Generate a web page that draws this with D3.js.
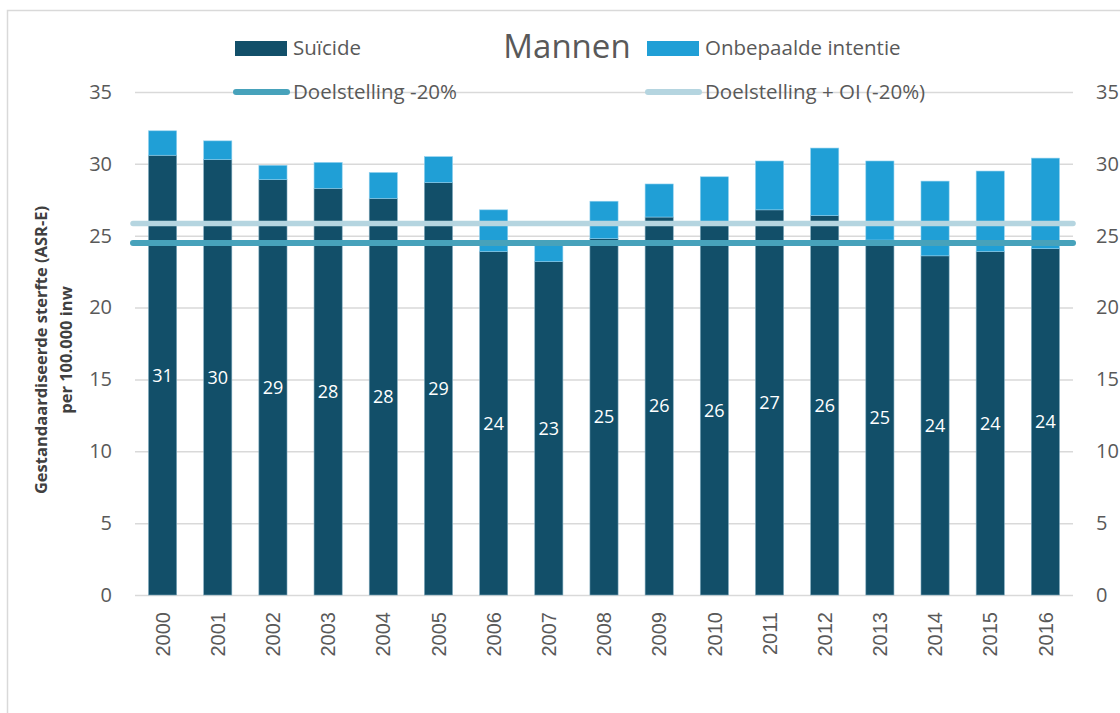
<!DOCTYPE html>
<html>
<head>
<meta charset="utf-8">
<script src="https://cdn.jsdelivr.net/npm/d3@7"></script>
<style>
  body { margin: 0; background: #fff; }
  text { font-family: "Open Sans", sans-serif; }
</style>
</head>
<body>
<div id="chart"></div>
<script>
// data
var years = ["2000", "2001", "2002", "2003", "2004", "2005", "2006", "2007", "2008",
    "2009", "2010", "2011", "2012", "2013", "2014", "2015", "2016"];
var suicide = [30.6, 30.3, 28.9, 28.3, 27.6, 28.7, 23.9, 23.2, 24.8,
    26.3, 25.7, 26.8, 26.4, 24.7, 23.6, 23.9, 24.1];
var onbepaald = [1.7, 1.3, 1.0, 1.8, 1.8, 1.8, 2.9, 1.2, 2.6,
    2.3, 3.4, 3.4, 4.7, 5.5, 5.2, 5.6, 6.3];
var doelstelling = 24.5;
var doelstellingOI = 25.85;
var yTicks = [0, 5, 10, 15, 20, 25, 30, 35];

var W = 1120, H = 713;
var margin = {top: 92, right: 47, bottom: 118, left: 135},
    width = W - margin.left - margin.right,
    height = H - margin.top - margin.bottom;

var colSuicide = "#124f69",
    colOnbep = "#209fd6",
    colDoel = "#47a2bb",
    colDoelOI = "#b5d5e0",
    grey = "#595959";

var svg = d3.select("#chart")
    .append("svg")
    .attr("width", W)
    .attr("height", H);

// outer frame
svg.append("rect")
    .attr("x", 7.5).attr("y", 10.5)
    .attr("width", W + 20).attr("height", H + 20)
    .attr("fill", "none")
    .attr("stroke", "#d9d9d9")
    .attr("stroke-width", 1.5);

var g = svg.append("g")
    .attr("transform", "translate(" + margin.left + "," + margin.top + ")");

var x = d3.scaleBand()
    .domain(years)
    .range([0, width])
    .paddingInner(0.49)
    .paddingOuter(0.245);

var y = d3.scaleLinear()
    .domain([0, 35])
    .range([height, 0]);

// gridlines
g.append("g")
    .call(d3.axisLeft(y).tickValues(yTicks).tickSize(-width).tickFormat(""))
    .call(function (s) {
        s.select(".domain").remove();
        s.selectAll("line").attr("stroke", "#d9d9d9").attr("stroke-width", 1.5);
    });

// left axis labels
g.append("g")
    .call(d3.axisLeft(y).tickValues(yTicks).tickSize(0).tickPadding(23))
    .call(function (s) {
        s.select(".domain").remove();
        s.selectAll("text")
            .style("font-size", "20px")
            .style("font-family", "Open Sans")
            .attr("fill", grey);
    });

// right axis labels
g.append("g")
    .attr("transform", "translate(" + width + ",0)")
    .call(d3.axisRight(y).tickValues(yTicks).tickSize(0).tickPadding(23))
    .call(function (s) {
        s.select(".domain").remove();
        s.selectAll("text")
            .style("font-size", "20px")
            .style("font-family", "Open Sans")
            .attr("fill", grey);
    });

// x axis
g.append("g")
    .attr("transform", "translate(0," + height + ")")
    .call(d3.axisBottom(x).tickSize(0).tickPadding(0))
    .call(function (s) {
        s.select(".domain").remove();
        s.selectAll("text")
            .attr("transform", "rotate(-90)")
            .attr("text-anchor", "end")
            .attr("x", -17)
            .attr("y", 0)
            .attr("dy", "0.36em")
            .style("font-size", "20px")
            .style("font-family", "Liberation Sans")
            .attr("fill", grey);
    });

// stacked bars
var stacked = years.map(function (yr, i) {
    return {year: yr, s: suicide[i], o: onbepaald[i]};
});

g.selectAll(".bar-s")
    .data(stacked)
    .enter()
    .append("rect")
    .attr("x", function (d) { return x(d.year); })
    .attr("width", x.bandwidth())
    .attr("y", function (d) { return y(d.s); })
    .attr("height", function (d) { return y(0) - y(d.s); })
    .attr("fill", colSuicide)
    .attr("stroke", "#7ea9bd")
    .attr("stroke-width", 0.6);

g.selectAll(".bar-o")
    .data(stacked)
    .enter()
    .append("rect")
    .attr("x", function (d) { return x(d.year); })
    .attr("width", x.bandwidth())
    .attr("y", function (d) { return y(d.s + d.o); })
    .attr("height", function (d) { return y(d.s) - y(d.s + d.o); })
    .attr("fill", colOnbep)
    .attr("stroke", "#8fd0ee")
    .attr("stroke-width", 0.6);

// target lines
g.append("line")
    .attr("x1", -2).attr("x2", width)
    .attr("y1", y(doelstellingOI)).attr("y2", y(doelstellingOI))
    .attr("stroke", colDoelOI)
    .attr("stroke-width", 5.5)
    .attr("stroke-linecap", "round");

g.append("line")
    .attr("x1", -2).attr("x2", width)
    .attr("y1", y(doelstelling)).attr("y2", y(doelstelling))
    .attr("stroke", colDoel)
    .attr("stroke-width", 6)
    .attr("stroke-linecap", "round");

// data labels
g.selectAll(".lbl")
    .data(stacked)
    .enter()
    .append("text")
    .attr("x", function (d) { return x(d.year) + x.bandwidth() / 2; })
    .attr("y", function (d) { return y(d.s / 2); })
    .attr("dy", "0.36em")
    .attr("text-anchor", "middle")
    .style("font-size", "18px")
    .attr("fill", "#fff")
    .text(function (d) { return Math.round(d.s); });

// title
svg.append("text")
    .attr("x", 567)
    .attr("y", 58)
    .attr("text-anchor", "middle")
    .style("font-size", "33px")
    .attr("fill", grey)
    .text("Mannen");

// legend
var legendItems = [
    {label: "Suïcide", type: "rect", color: colSuicide, x: 235, y: 48},
    {label: "Onbepaalde intentie", type: "rect", color: colOnbep, x: 647, y: 48},
    {label: "Doelstelling -20%", type: "line", color: colDoel, x: 235, y: 92},
    {label: "Doelstelling + OI (-20%)", type: "line", color: colDoelOI, x: 647, y: 92}
];

var leg = svg.selectAll(".legend")
    .data(legendItems)
    .enter()
    .append("g")
    .attr("transform", function (d) { return "translate(" + d.x + "," + d.y + ")"; });

leg.filter(function (d) { return d.type === "rect"; })
    .append("rect")
    .attr("x", 0).attr("y", -7)
    .attr("width", 52).attr("height", 15)
    .attr("fill", function (d) { return d.color; });

leg.filter(function (d) { return d.type === "line"; })
    .append("line")
    .attr("x1", 1).attr("x2", 52)
    .attr("y1", 0).attr("y2", 0)
    .attr("stroke", function (d) { return d.color; })
    .attr("stroke-width", 6)
    .attr("stroke-linecap", "round");

leg.append("text")
    .attr("x", 58)
    .attr("y", 0)
    .attr("dy", "0.35em")
    .style("font-size", "20.5px")
    .attr("fill", grey)
    .text(function (d) { return d.label; });

// y axis title
var yTitle = svg.append("text")
    .attr("transform", "translate(47,350) rotate(-90)")
    .attr("text-anchor", "middle")
    .style("font-size", "16.5px")
    .style("font-weight", "bold")
    .attr("fill", "#404040");
yTitle.append("tspan").attr("x", 0).attr("y", 0).text("Gestandaardiseerde sterfte (ASR-E)");
yTitle.append("tspan").attr("x", 0).attr("y", 25).text("per 100.000 inw");
</script>
</body>
</html>
